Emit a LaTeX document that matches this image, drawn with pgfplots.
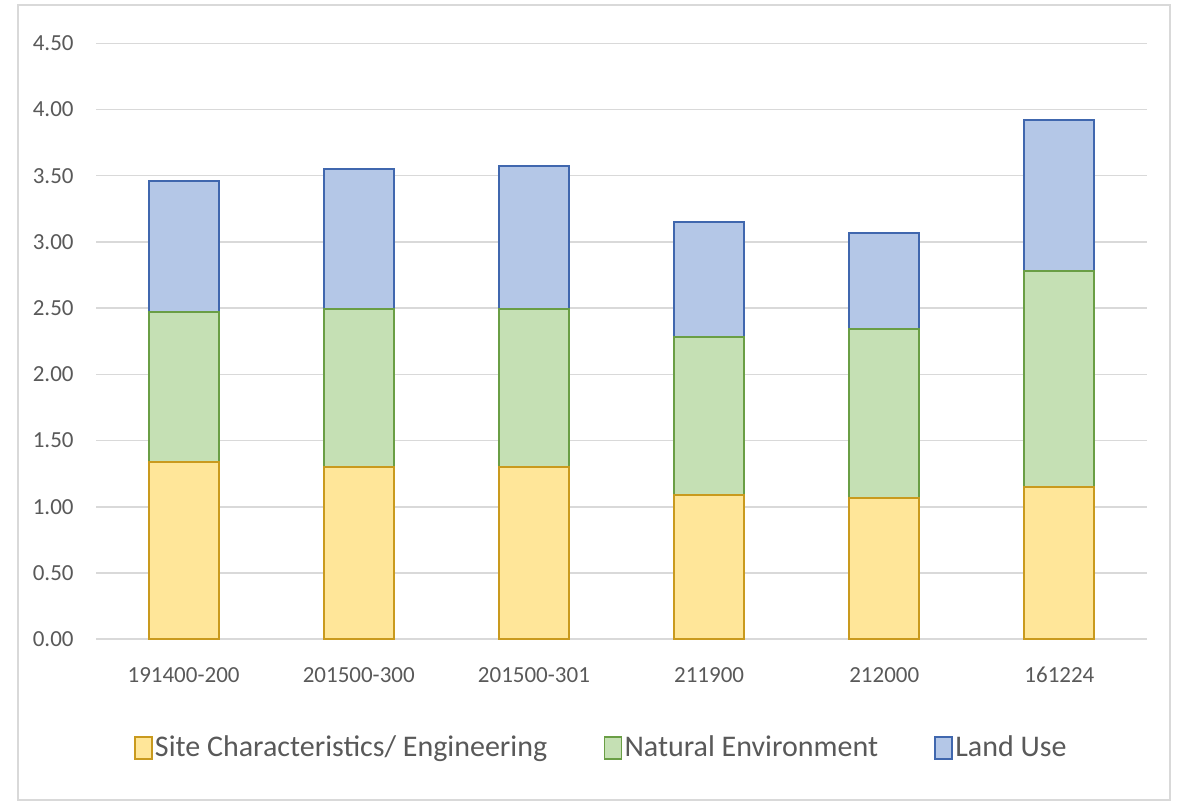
\documentclass[border=0pt]{standalone}
\usepackage{fontspec}
\setmainfont{Carlito}
\usepackage{pgfplots}
\pgfplotsset{compat=1.18}
\definecolor{gridgray}{HTML}{D9D9D9}
\definecolor{txtgray}{HTML}{595959}
\definecolor{sitefill}{HTML}{FFE699}
\definecolor{sitedraw}{HTML}{C99A1E}
\definecolor{natfill}{HTML}{C5E0B4}
\definecolor{natdraw}{HTML}{6A9E45}
\definecolor{landfill}{HTML}{B4C7E7}
\definecolor{landdraw}{HTML}{4067AE}
\begin{document}
\begin{tikzpicture}
\path[use as bounding box] (0,0) rectangle (590.5bp,403bp);
\draw[gridgray, line width=0.75bp] (9bp,3bp) rectangle (585bp,400.5bp);
\begin{axis}[
    at={(48bp,83.4bp)}, anchor=south west,
    scale only axis, width=525.5bp, height=297.95bp,
    xmin=-0.5, xmax=5.5, ymin=0, ymax=4.5,
    ybar stacked, bar width=35bp,
    axis line style={draw=none},
    major tick length=0pt,
    ytick={0,0.5,...,4.5},
    xtick={0,...,5},
    xticklabels={191400-200, 201500-300, 201500-301, 211900, 212000, 161224},
    ymajorgrids,
    grid style={gridgray, line width=0.75bp},
    ticklabel style={font=\fontsize{11.5bp}{13bp}\selectfont, text=txtgray},
    yticklabel style={anchor=east, inner sep=0pt, xshift=-11bp,
        /pgf/number format/.cd, fixed, fixed zerofill, precision=2, assume math mode=true},
    xticklabel style={anchor=center, inner sep=0pt, yshift=-18bp},
    legend columns=-1,
    legend style={at={(0.481,-0.1826)}, anchor=center, draw=none, fill=none,
        font=\fontsize{15bp}{18bp}\selectfont, text=txtgray,
        nodes={inner sep=1.2bp},
        /tikz/every even column/.append style={column sep=27bp}},
    legend image code/.code={\draw[#1, line width=0.75bp] (0bp,-5.5bp) rectangle (8.5bp,5.5bp);},
]
\addplot[fill=sitefill, draw=sitedraw, line width=1bp] coordinates {(0,1.34) (1,1.30) (2,1.30) (3,1.09) (4,1.07) (5,1.15)};
\addplot[fill=natfill, draw=natdraw, line width=1bp] coordinates {(0,1.13) (1,1.19) (2,1.19) (3,1.19) (4,1.27) (5,1.63)};
\addplot[fill=landfill, draw=landdraw, line width=1bp] coordinates {(0,0.99) (1,1.06) (2,1.08) (3,0.87) (4,0.73) (5,1.14)};
\legend{Site Characteristics/ Engineering, Natural Environment, Land Use}
\end{axis}
\end{tikzpicture}
\end{document}
